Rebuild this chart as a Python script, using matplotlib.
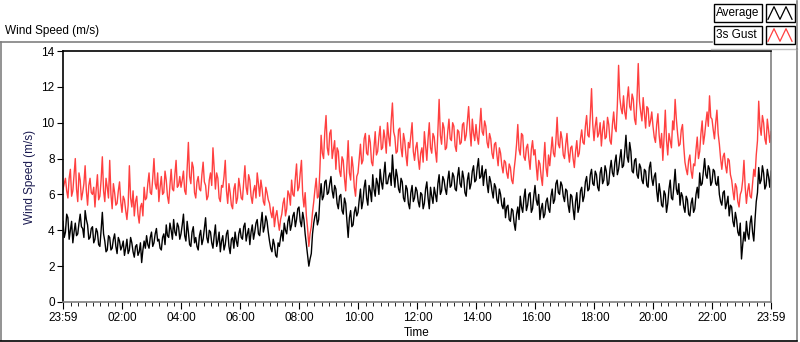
import numpy as np
import matplotlib
matplotlib.use("Agg")
import matplotlib.pyplot as plt
from matplotlib.patches import Rectangle
from matplotlib.lines import Line2D

plt.rcParams['font.family'] = ['Liberation Sans', 'DejaVu Sans']

# samples every 5 minutes from 23:59 to 23:59 (12 per hour, plus last point)
average = [
    4.5, 3.9, 4.7, 4.0, 3.3, 4.4, 3.8, 4.9, 4.1, 5.1, 4.3, 3.6,
    4.2, 3.5, 3.9, 3.1, 5.0, 3.4, 2.9, 3.6, 3.0, 3.8, 2.7, 3.4,
    3.1, 2.6, 3.5, 2.9, 3.3, 2.5, 3.2, 2.8, 2.2, 3.4, 3.7, 3.0,
    3.9, 3.3, 4.1, 3.5, 2.9, 3.8, 4.3, 3.6, 4.0, 4.6, 3.7, 4.2,
    3.8, 4.9, 3.4, 3.9, 3.1, 4.2, 3.6, 2.9, 4.0, 3.5, 4.7, 3.3,
    3.9, 3.0, 4.3, 3.4, 2.8, 3.7, 3.2, 4.0, 2.7, 3.6, 3.9, 3.1,
    4.1, 3.5, 4.4, 3.8, 3.2, 4.3, 3.9, 4.6, 3.7, 5.0, 4.2, 4.5,
    3.4, 2.8, 3.2, 2.5, 3.1, 4.0, 4.4, 3.8, 4.8, 4.3, 5.0, 4.6,
    5.3, 4.2, 4.6, 3.2, 2.0, 2.7, 4.4, 5.0, 4.6, 6.6, 5.9, 6.8,
    6.1, 7.0, 5.8, 6.3, 5.2, 6.0, 4.9, 5.5, 3.6, 5.1, 4.3, 5.3,
    5.0, 6.3, 5.6, 6.8, 5.4, 6.2, 7.1, 5.9, 6.6, 7.4, 6.3, 7.8,
    6.6, 7.2, 8.2, 6.4, 7.0, 6.1, 6.7, 5.6, 6.3, 5.2, 6.5, 5.8,
    6.2, 5.3, 6.0, 5.5, 6.7, 5.2, 5.9, 6.4, 5.6, 7.1, 6.2, 6.8,
    6.0, 7.3, 6.5, 7.0, 6.2, 7.5, 6.4, 6.9, 5.9, 7.2, 6.6, 7.6,
    6.8, 8.0, 7.0, 6.5, 7.4, 6.1, 6.7, 5.8, 6.4, 5.5, 6.0, 5.2,
    4.7, 5.4, 4.5, 5.1, 4.0, 5.3, 5.9, 5.0, 6.3, 5.4, 6.1, 5.2,
    6.5, 5.4, 4.6, 5.5, 4.9, 5.8, 5.0, 6.3, 5.7, 6.8, 6.0, 6.5,
    5.6, 6.2, 5.0, 5.9, 4.6, 6.1, 5.3, 6.4, 5.9, 7.0, 6.3, 7.4,
    6.5, 7.1, 6.2, 7.5, 6.8, 7.3, 6.6, 7.9, 7.0, 8.2, 7.4, 8.5,
    7.6, 9.3, 7.8, 8.4, 7.2, 8.0, 6.9, 7.5, 6.6, 7.3, 6.4, 7.8,
    6.5, 7.2, 5.6, 6.1, 5.3, 6.0, 5.5, 6.8, 5.7, 7.4, 6.0, 5.4,
    5.9, 5.0, 5.7, 4.8, 5.8, 5.2, 6.4, 7.2, 6.6, 8.0, 6.9, 7.4,
    6.7, 7.3, 6.5, 6.0, 5.4, 6.2, 5.5, 4.8, 5.3, 4.2, 4.6, 3.7,
    2.4, 3.9, 4.5, 3.5, 4.8, 3.4, 5.6, 7.5, 6.8, 7.2, 6.5, 7.0,
    7.3,
]
# readings 2.5 minutes after each of the above
average_mid = [
    3.6, 4.9, 3.5, 4.5, 3.9, 3.7, 4.4, 4.2, 3.6, 4.6, 3.5, 4.1,
    3.3, 4.1, 3.2, 4.0, 3.8, 2.8, 3.7, 2.9, 3.5, 3.1, 3.6, 2.9,
    3.4, 3.0, 2.7, 3.6, 2.8, 3.1, 2.6, 3.3, 2.9, 3.0, 3.2, 3.6,
    3.1, 3.8, 3.4, 3.0, 3.6, 3.2, 3.7, 4.4, 3.5, 3.9, 4.4, 3.5,
    4.3, 3.7, 4.5, 3.2, 3.9, 3.3, 3.1, 3.7, 3.2, 4.1, 3.6, 4.0,
    3.3, 3.7, 3.1, 3.9, 3.4, 2.9, 3.8, 3.1, 3.5, 3.0, 3.4, 3.8,
    3.6, 4.2, 3.4, 4.1, 3.9, 3.5, 4.4, 3.8, 4.4, 3.9, 4.8, 3.9,
    3.0, 3.5, 2.6, 3.3, 3.6, 3.4, 4.0, 4.5, 4.0, 4.8, 4.2, 5.2,
    4.5, 5.0, 3.8, 2.6, 2.4, 3.8, 4.8, 4.3, 5.8, 5.7, 6.7, 6.0,
    6.6, 6.2, 6.5, 5.5, 5.9, 5.1, 5.8, 4.5, 4.7, 4.2, 5.0, 4.8,
    5.7, 5.2, 6.4, 5.8, 6.5, 5.6, 6.3, 6.9, 6.0, 6.7, 7.1, 6.6,
    7.0, 6.5, 7.1, 7.4, 6.3, 6.9, 5.8, 6.5, 5.5, 6.1, 5.6, 6.4,
    5.6, 6.1, 5.2, 6.3, 5.8, 6.4, 5.5, 6.0, 6.6, 6.0, 7.0, 6.3,
    6.8, 6.4, 7.2, 6.3, 7.0, 6.6, 7.3, 6.1, 6.8, 6.3, 7.3, 6.7,
    7.5, 6.9, 7.6, 7.2, 6.6, 7.0, 6.2, 6.6, 5.7, 6.3, 5.4, 5.8,
    5.3, 4.6, 5.2, 4.4, 4.9, 4.6, 5.3, 5.8, 5.1, 6.0, 5.0, 5.9,
    5.7, 6.0, 5.2, 4.7, 5.6, 5.2, 5.9, 5.5, 6.6, 6.1, 6.7, 5.9,
    6.3, 5.4, 6.0, 5.2, 5.6, 5.0, 6.2, 5.6, 6.7, 6.2, 7.1, 6.6,
    7.3, 6.4, 7.2, 6.6, 7.6, 6.5, 7.4, 7.2, 7.8, 7.1, 8.0, 7.5,
    8.4, 8.1, 8.9, 7.3, 7.9, 7.1, 7.7, 6.8, 7.4, 6.5, 7.5, 6.9,
    7.0, 6.2, 6.6, 5.4, 6.2, 5.0, 6.3, 5.8, 6.5, 6.3, 6.6, 6.1,
    5.3, 5.9, 4.9, 5.5, 5.0, 6.0, 5.8, 6.5, 7.3, 7.1, 7.6, 6.5,
    7.4, 6.6, 7.0, 5.6, 6.1, 5.2, 5.9, 5.4, 4.5, 5.0, 3.9, 4.4,
    3.2, 3.4, 3.8, 4.4, 3.9, 4.6, 6.1, 6.6, 7.6, 6.3, 7.4, 6.4,
]

gust = [
    6.3, 6.9, 5.8, 7.4, 6.2, 8.0, 5.6, 6.8, 6.1, 7.6, 5.4, 6.9,
    6.0, 5.3, 7.1, 5.9, 8.1, 5.6, 6.4, 7.9, 5.2, 6.1, 5.5, 6.7,
    5.0, 5.7, 4.6, 7.6, 5.3, 4.8, 5.9, 4.4, 5.5, 6.4, 5.8, 7.2,
    6.0, 8.0, 6.3, 5.6, 7.0, 6.1, 6.8, 5.5, 7.4, 6.2, 7.9, 6.5,
    6.4, 7.3, 6.0, 8.9, 6.6, 7.5, 5.8, 7.0, 6.2, 7.8, 6.5, 5.9,
    7.2, 8.6, 6.3, 6.9, 5.6, 6.4, 7.9, 5.5, 6.1, 5.2, 6.6, 5.8,
    6.4, 5.7, 7.6, 6.0, 6.8, 5.5, 6.5, 7.2, 5.9, 6.3, 5.4, 6.1,
    5.5, 4.7, 4.2, 5.1, 4.0, 4.9, 5.8, 5.2, 6.0, 6.8, 5.9, 7.7,
    6.4, 7.9, 5.3, 4.8, 3.1, 4.2, 5.6, 6.9, 5.9, 9.3, 8.0, 10.4,
    8.2, 9.6, 8.5, 7.4, 8.4, 7.0, 7.9, 6.2, 9.0, 6.8, 7.5, 5.9,
    7.2, 8.8, 7.9, 9.4, 8.2, 8.9, 7.6, 9.5, 8.4, 9.8, 8.6, 9.1,
    10.0, 8.7, 11.1, 9.2, 8.4, 9.7, 8.1, 9.0, 7.6, 8.6, 10.0, 7.9,
    8.9, 7.4, 8.6, 9.5, 7.9, 10.0, 8.3, 9.2, 7.8, 11.3, 8.8, 9.7,
    8.6, 10.2, 9.0, 9.8, 8.4, 9.5, 8.9, 10.0, 9.3, 10.9, 8.7, 9.4,
    9.9, 8.8, 10.8, 9.3, 9.8, 8.6, 9.1, 8.0, 8.9, 7.6, 8.3, 7.2,
    7.8, 6.9, 7.5, 6.6, 8.0, 9.9, 8.2, 9.3, 7.9, 8.8, 7.4, 9.0,
    8.5, 6.8, 7.7, 6.5, 8.9, 7.0, 7.6, 9.2, 8.1, 10.3, 8.6, 9.1,
    8.0, 9.4, 7.8, 8.7, 7.5, 9.0, 8.3, 9.6, 8.8, 10.4, 9.2, 11.9,
    9.0, 10.3, 9.4, 8.7, 10.1, 9.2, 9.9, 8.8, 10.6, 9.5, 13.2, 10.8,
    11.5, 10.2, 12.0, 10.7, 11.3, 9.9, 13.3, 10.6, 11.4, 9.7, 10.8, 10.1,
    9.8, 8.9, 10.5, 8.6, 7.9, 10.7, 8.2, 9.0, 10.1, 11.3, 9.4, 8.8,
    9.9, 7.8, 7.1, 8.2, 6.9, 7.6, 9.2, 8.4, 10.1, 9.3, 10.6, 11.5,
    10.2, 9.1, 10.7, 8.8, 7.4, 8.3, 7.2, 7.9, 6.8, 5.7, 6.4, 5.3,
    6.2, 7.9, 5.5, 6.6, 5.8, 7.4, 8.2, 11.2, 9.3, 10.0, 8.8, 9.6,
    9.5,
]
gust_mid = [
    6.6, 6.2, 6.9, 5.9, 7.1, 6.3, 7.2, 5.7, 6.6, 6.2, 6.5, 6.1,
    6.4, 6.3, 5.7, 6.8, 6.2, 6.9, 5.8, 6.0, 6.6, 5.4, 6.2, 5.6,
    5.9, 5.1, 5.4, 5.8, 6.2, 5.6, 4.9, 5.3, 4.8, 5.7, 6.6, 6.1,
    6.9, 6.6, 7.2, 6.4, 6.0, 7.3, 5.9, 6.5, 6.3, 7.1, 6.4, 7.0,
    6.8, 6.2, 7.4, 7.0, 7.8, 6.1, 6.7, 6.3, 7.1, 6.7, 5.7, 6.8,
    6.5, 7.4, 7.2, 5.8, 6.5, 7.0, 6.2, 6.6, 5.4, 6.3, 5.5, 6.9,
    5.8, 6.7, 6.4, 7.1, 5.9, 6.2, 5.8, 6.6, 6.8, 5.6, 6.4, 5.7,
    5.0, 5.3, 4.8, 4.5, 4.6, 5.5, 4.8, 6.2, 5.4, 6.0, 6.9, 6.2,
    7.2, 6.0, 6.1, 4.1, 3.8, 5.0, 6.3, 5.8, 7.4, 8.3, 9.5, 8.6,
    9.4, 8.0, 9.0, 8.6, 7.3, 8.1, 6.9, 7.6, 7.2, 8.1, 6.4, 7.0,
    8.0, 7.7, 9.1, 8.3, 9.3, 7.8, 8.6, 8.2, 9.2, 8.5, 9.6, 8.3,
    9.2, 10.1, 9.5, 8.3, 9.6, 8.6, 9.4, 8.2, 8.9, 9.3, 8.4, 8.6,
    8.0, 8.3, 7.8, 8.7, 9.1, 8.6, 9.4, 8.4, 9.6, 9.3, 10.0, 8.5,
    9.5, 9.1, 10.0, 8.7, 9.6, 8.8, 9.9, 9.0, 10.1, 9.6, 10.2, 9.0,
    9.2, 9.8, 9.5, 10.1, 8.9, 9.4, 8.3, 8.8, 8.2, 8.6, 7.6, 7.9,
    7.2, 7.7, 6.8, 7.4, 8.8, 8.5, 9.4, 8.1, 8.6, 8.0, 8.5, 8.2,
    7.6, 7.9, 7.0, 7.8, 7.5, 8.2, 8.4, 8.3, 9.0, 8.8, 9.5, 8.2,
    8.8, 8.4, 8.6, 8.0, 8.4, 8.1, 9.1, 8.9, 9.8, 9.3, 10.4, 9.9,
    9.8, 9.2, 10.0, 9.6, 9.1, 10.3, 9.0, 9.9, 9.7, 11.0, 11.4, 10.5,
    10.6, 11.3, 10.9, 11.6, 10.2, 11.4, 11.2, 10.1, 10.5, 10.9, 9.8, 10.6,
    9.2, 9.9, 9.3, 9.4, 9.2, 9.0, 9.4, 8.6, 9.6, 10.2, 8.7, 9.6,
    8.7, 7.4, 7.9, 7.3, 7.7, 8.5, 8.0, 9.4, 8.8, 10.0, 9.8, 10.3,
    9.6, 10.0, 9.4, 8.0, 8.1, 7.6, 8.0, 7.1, 6.2, 6.6, 5.6, 6.0,
    6.8, 6.4, 6.2, 5.9, 6.6, 7.0, 9.0, 9.8, 10.4, 9.1, 10.2, 8.9,
]

tick_labels = ['23:59', '02:00', '04:00', '06:00', '08:00', '10:00', '12:00',
               '14:00', '16:00', '18:00', '20:00', '22:00', '23:59']
tick_pos = [0, 121, 241, 361, 481, 601, 721, 841, 961, 1081, 1201, 1321, 1440]


def merge(main, mid):
    out = []
    for a, b in zip(main[:-1], mid):
        out += [a, b]
    out.append(main[-1])
    return out


avg_all = merge(average, average_mid)
gust_all = merge(gust, gust_mid)
t = np.arange(len(avg_all)) * 2.5

fig = plt.figure(figsize=(8, 3.42), dpi=100)
ax = fig.add_axes([63 / 800, 1 - 302 / 342, 708 / 800, 251 / 342])

ax.plot(t, gust_all, color='#ff4040', lw=1.0)
ax.plot(t, avg_all, color='black', lw=1.0)

ax.set_xlim(0, 1440)
ax.set_ylim(0, 14)
ax.set_yticks(range(0, 15, 2))
ax.set_xticks(tick_pos)
ax.set_xticklabels(tick_labels)
ax.set_xticks(np.arange(16, 1440, 15), minor=True)
ax.tick_params(axis='both', labelsize=8.5, colors='black', direction='out')
ax.tick_params(axis='x', which='major', length=5, pad=2)
ax.tick_params(axis='x', which='minor', length=3)
ax.tick_params(axis='y', length=4, pad=2)
ax.set_xlabel('Time', fontsize=8.5)
ax.xaxis.set_label_coords(0.5, -0.098)
ax.set_ylabel('Wind Speed (m/s)', fontsize=8.5, color='#1a1a50', labelpad=4)

ax.spines['left'].set_color('black')
ax.spines['top'].set_color('black')
ax.spines['right'].set_color('#808080')
ax.spines['bottom'].set_color('#808080')
for s in ax.spines.values():
    s.set_linewidth(1.2)

# outer frame and title
fig.add_artist(Line2D([0, 712 / 800], [1 - 42 / 342] * 2, color='#808080', lw=1.2))
fig.add_artist(Line2D([797 / 800] * 2, [1 - 49 / 342, 1 - 340 / 342], color='#808080', lw=1.2))
fig.add_artist(Line2D([1 / 800] * 2, [1 - 42 / 342, 1 - 340 / 342], color='#808080', lw=1.2))
fig.add_artist(Line2D([0, 797 / 800], [1 - 340.5 / 342] * 2, color='black', lw=1.2))
fig.text(5 / 800, 1 - 31 / 342, 'Wind Speed (m/s)', fontsize=8.5, va='center', ha='left')

# legend boxes
for i, (name, col) in enumerate([('Average', 'black'), ('3s Gust', '#ff4040')]):
    y0 = 1 - (22 + i * 22) / 342
    h = 18 / 342
    fig.add_artist(Rectangle((714 / 800, y0), 48 / 800, h, transform=fig.transFigure,
                             facecolor='white', edgecolor='black', lw=1.0))
    fig.text(716 / 800, y0 + h / 2, name, fontsize=8.5, va='center', ha='left')
    fig.add_artist(Rectangle((766 / 800, y0), 29 / 800, h, transform=fig.transFigure,
                             facecolor='white', edgecolor='black', lw=1.0))
    xs = np.array([768, 774, 780, 786, 792]) / 800
    ys = y0 + np.array([0.15, 0.85, 0.15, 0.85, 0.15]) * h
    fig.add_artist(Line2D(xs, ys, color=col, lw=0.9))
fig.add_artist(Line2D([711 / 800, 797 / 800], [1 - 49 / 342] * 2, color='#c0c0c0', lw=1.0))
fig.add_artist(Line2D([797 / 800] * 2, [1 - 1 / 342, 1 - 49 / 342], color='#808080', lw=1.2))

fig.savefig('out.png', dpi=100)
